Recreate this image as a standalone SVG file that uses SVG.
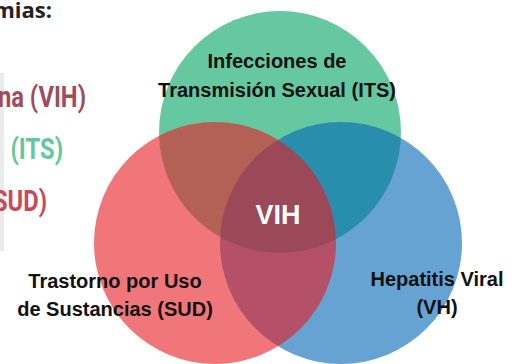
<svg xmlns="http://www.w3.org/2000/svg" width="520" height="364" viewBox="0 0 520 364">
  <style>
    .circ { opacity: 0.6; }
    .lbl { font-family: "Liberation Sans", Arial, sans-serif; font-weight: bold; font-size: 20px; fill: #111; text-anchor: middle; }
    .leg { font-family: Roboto, "Liberation Sans", sans-serif; font-weight: bold; font-size: 29px; text-anchor: end; }
  </style>
  <rect width="520" height="364" fill="#ffffff"/>
  <g id="title">
    <text x="52" y="18" font-family="'Open Sans', 'Liberation Sans', sans-serif" font-weight="bold" font-size="22" fill="#222" text-anchor="end">mias:</text>
  </g>
  <g id="legend">
    <rect x="0" y="73" width="4" height="178" fill="#ebebeb"/>
    <text class="leg" transform="translate(86 107) scale(0.82 1)" fill="#A04B5E">na (VIH)</text>
    <text class="leg" transform="translate(63 159) scale(0.82 1)" fill="#63C79C">(ITS)</text>
    <text class="leg" transform="translate(47 211) scale(0.82 1)" fill="#C94A56">SUD)</text>
  </g>
  <g id="its">
    <circle class="circ" cx="280" cy="132" r="121" fill="#00A361"/>
    <text class="lbl" x="277" y="68">Infecciones de</text>
    <text class="lbl" x="277" y="97">Transmisión Sexual (ITS)</text>
  </g>
  <g id="vh">
    <circle class="circ" cx="341" cy="243" r="121" fill="#0066B6"/>
    <text class="lbl" x="437" y="286">Hepatitis Viral</text>
    <text class="lbl" x="437" y="314">(VH)</text>
  </g>
  <g id="sud">
    <circle class="circ" cx="215" cy="243" r="121" fill="#E81B21"/>
    <text class="lbl" x="115" y="288">Trastorno por Uso</text>
    <text class="lbl" x="115" y="316">de Sustancias (SUD)</text>
  </g>
  <g id="vih">
    <text x="278" y="224" font-family="'Liberation Sans', Arial, sans-serif" font-weight="bold" font-size="27" fill="#ffffff" text-anchor="middle">VIH</text>
  </g>
</svg>
